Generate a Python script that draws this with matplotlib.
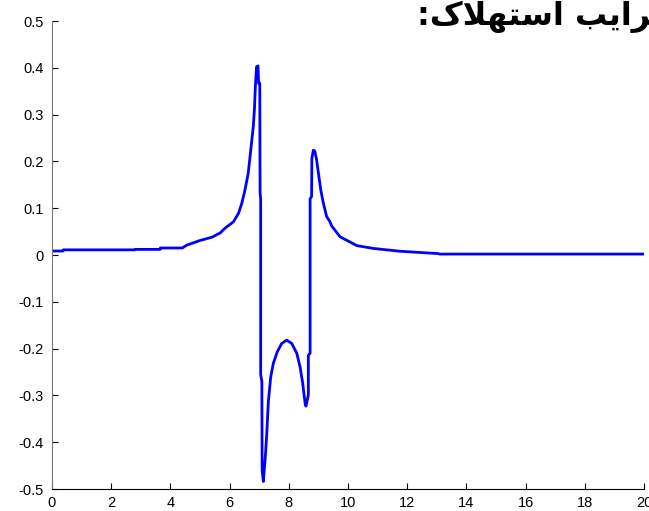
import matplotlib
matplotlib.use("Agg")
import matplotlib.pyplot as plt

# damping coefficient response, sampled from the simulation output
t = [0, 0.37, 0.38, 2.8, 2.81, 3.65, 3.66, 4.4, 4.55, 5.0, 5.4, 5.68, 5.84,
     6.13, 6.3, 6.41, 6.52, 6.63, 6.69, 6.74, 6.8, 6.84, 6.87, 6.91, 6.96,
     6.98, 7.02, 7.03, 7.05, 7.05, 7.09, 7.1, 7.14, 7.17, 7.2, 7.25, 7.31,
     7.39, 7.48, 7.61, 7.76, 7.93, 8.1, 8.27, 8.38, 8.47, 8.55, 8.58, 8.66,
     8.66, 8.72, 8.72, 8.77, 8.78, 8.83, 8.88, 8.94, 9.0, 9.08, 9.17, 9.28,
     9.39, 9.45, 9.73, 10.3, 10.86, 11.76, 13.05, 13.1, 20]
c = [0.0085, 0.0085, 0.011, 0.011, 0.012, 0.012, 0.015, 0.015, 0.021, 0.031,
     0.038, 0.047, 0.057, 0.071, 0.089, 0.11, 0.139, 0.175, 0.21, 0.239,
     0.274, 0.313, 0.36, 0.402, 0.404, 0.367, 0.367, 0.132, 0.12, -0.256,
     -0.27, -0.46, -0.484, -0.46, -0.438, -0.388, -0.313, -0.26, -0.231,
     -0.207, -0.189, -0.182, -0.189, -0.21, -0.239, -0.274, -0.317, -0.323,
     -0.299, -0.214, -0.21, 0.12, 0.125, 0.207, 0.224, 0.222, 0.203, 0.175,
     0.139, 0.11, 0.082, 0.071, 0.062, 0.039, 0.020, 0.014, 0.008, 0.003,
     0.002, 0.002]

xticks = list(range(0, 21, 2))
yticks = [-0.5, -0.4, -0.3, -0.2, -0.1, 0, 0.1, 0.2, 0.3, 0.4, 0.5]
ylabels = ["-0.5", "-0.4", "-0.3", "-0.2", "-0.1", "0", "0.1", "0.2", "0.3", "0.4", "0.5"]

# "ضرایب استهلاک:" written with presentation forms in visual order
title = "\u003a\ufb8e\ufefc\ufeec\ufe98\ufeb3\ufe8d \ufe90\ufbfe\ufe8d\ufeae\ufebf"

plt.rcParams["font.family"] = ["Liberation Sans", "DejaVu Sans"]

fig = plt.figure(figsize=(6.49, 5.11), dpi=100)
ax = fig.add_axes([52 / 649, 22 / 511, 592 / 649, 468 / 511])
ax.plot(t, c, color="#0000ff", lw=2)

ax.set_xlim(0, 20)
ax.set_ylim(-0.5, 0.5)
ax.set_xticks(xticks)
ax.set_yticks(yticks)
ax.set_yticklabels(ylabels)
ax.tick_params(direction="in", length=4, labelsize=10.5, color="black")
ax.tick_params(axis="y", pad=6)
ax.tick_params(axis="x", pad=5)

for side in ("top", "right"):
    ax.spines[side].set_visible(False)
ax.spines["left"].set_color("#777777")
ax.spines["bottom"].set_color("black")

fig.text(417 / 649, 1 - 25 / 511, title, fontsize=23, fontweight="bold",
         family="DejaVu Sans", ha="left", va="baseline")

fig.savefig("out.png", dpi=100)
